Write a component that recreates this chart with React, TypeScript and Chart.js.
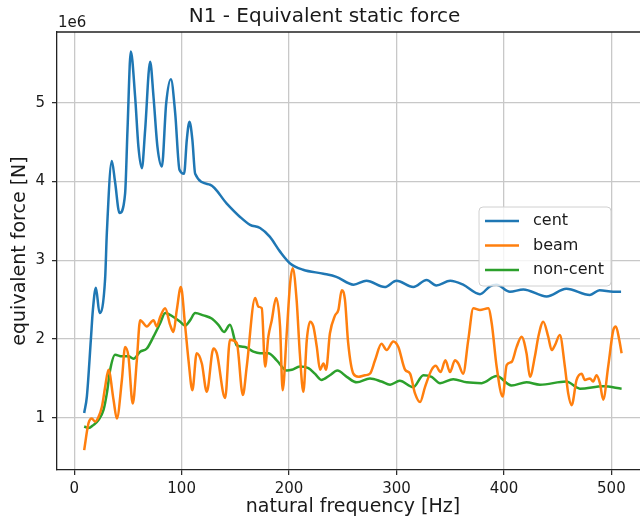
import React, { useEffect, useRef } from "react";
import { Chart, registerables } from "chart.js";

Chart.register(...registerables);

// ---- data (force values in units of 1e6 N) ----
const centFreq = [9.3, 11.8, 15.5, 17.4, 20.2, 23.6, 28.8, 30.4, 35, 38, 42.2, 47.4, 49.6, 52.7, 56.7, 59.8, 63, 66, 70.7, 73.8, 77.5, 81.6, 85.6, 90, 94, 98, 102.3, 104.8, 107.3, 110, 112.6, 126.5, 142, 154.4, 163.7, 173, 182, 191.6, 201, 213, 232, 244, 260, 272, 289, 300, 315.6, 328, 337, 350, 362, 377.7, 387, 393, 405.6, 418, 439.7, 458, 480, 489, 501.7, 509];
const centForce = [1.06, 1.27, 1.99, 2.37, 2.65, 2.33, 2.77, 3.35, 4.26, 4.0, 3.6, 3.85, 4.65, 5.65, 5.08, 4.44, 4.17, 4.65, 5.52, 5.08, 4.44, 4.19, 4.99, 5.3, 4.87, 4.15, 4.1, 4.53, 4.76, 4.53, 4.1, 3.96, 3.72, 3.55, 3.45, 3.41, 3.3, 3.11, 2.96, 2.88, 2.83, 2.79, 2.69, 2.74, 2.66, 2.74, 2.66, 2.75, 2.68, 2.74, 2.69, 2.57, 2.67, 2.69, 2.6, 2.63, 2.54, 2.64, 2.56, 2.62, 2.6, 2.6];

const beamFreq = [9.3, 13.3, 16.4, 19.5, 22.6, 25.8, 28.8, 31.9, 36.6, 39.7, 44.4, 47.4, 50.5, 54.5, 58.3, 61.4, 67.6, 73.8, 76.9, 80, 84.7, 89.3, 92.4, 95.5, 99.3, 103.3, 106.4, 110, 114, 118.8, 123.4, 129.6, 132.7, 140.5, 145, 151.3, 157, 160.6, 168.4, 171.5, 174.6, 177.7, 180.7, 183.9, 187.9, 191.6, 194, 197.8, 201, 203.4, 207, 210, 213.3, 216.5, 219.5, 222.6, 225.8, 228.8, 232, 234.4, 238, 242.8, 245.9, 249, 252, 255, 259.8, 264.4, 270.7, 275.3, 280, 286, 290.8, 297, 301.7, 308, 312.6, 317.2, 321.9, 326.5, 332.7, 336.5, 341, 345.5, 349.8, 354.4, 357.5, 362, 366.8, 371.5, 377.7, 385.4, 388.6, 393.2, 398.8, 402.5, 407.2, 411.8, 416.4, 421, 424.2, 428.8, 432, 436.6, 441.2, 444.4, 447.4, 452, 456.7, 459.8, 463, 467.6, 472.3, 475.3, 480, 483, 486.2, 489.3, 492.4, 497, 501.7, 504.2, 507.3, 509.5];
const beamForce = [0.59, 0.93, 0.99, 0.95, 1.01, 1.14, 1.39, 1.61, 1.23, 0.99, 1.48, 1.9, 1.78, 1.18, 1.73, 2.24, 2.16, 2.24, 2.16, 2.28, 2.39, 2.18, 2.09, 2.37, 2.66, 2.16, 1.73, 1.35, 1.82, 1.69, 1.33, 1.88, 1.82, 1.25, 1.99, 1.95, 1.29, 1.65, 2.52, 2.41, 2.39, 1.65, 2.03, 2.24, 2.52, 2.16, 1.35, 2.07, 2.71, 2.9, 2.5, 1.82, 1.33, 1.99, 2.22, 2.16, 1.9, 1.61, 1.69, 1.61, 2.07, 2.3, 2.37, 2.62, 2.5, 1.95, 1.56, 1.52, 1.54, 1.56, 1.73, 1.94, 1.86, 1.97, 1.9, 1.61, 1.56, 1.31, 1.2, 1.39, 1.61, 1.66, 1.58, 1.73, 1.58, 1.73, 1.69, 1.56, 1.99, 2.39, 2.37, 2.39, 2.2, 1.65, 1.27, 1.67, 1.71, 1.9, 2.03, 1.82, 1.52, 1.78, 2.03, 2.22, 2.03, 1.86, 1.92, 2.05, 1.65, 1.31, 1.16, 1.48, 1.56, 1.48, 1.5, 1.46, 1.54, 1.44, 1.23, 1.65, 2.11, 2.16, 1.99, 1.82];

const nonCentFreq = [9.3, 13.3, 18, 22.6, 27.3, 30.4, 33.5, 38.1, 44.4, 50.5, 55.2, 61.4, 67.6, 73.8, 80, 84.7, 92.4, 98.6, 103.3, 108, 112.6, 120.3, 128, 134.2, 139.5, 145, 151.3, 159, 166.8, 173, 180.7, 188.5, 197.8, 202.5, 210, 218, 224, 230, 238, 245, 253.7, 263, 275.3, 286, 294, 303, 315.6, 325, 332.7, 340.5, 352.8, 365.3, 379.3, 393.2, 407, 421, 433.5, 458, 470.7, 492.4, 509.5];
const nonCentForce = [0.89, 0.87, 0.91, 0.97, 1.1, 1.31, 1.61, 1.8, 1.78, 1.78, 1.75, 1.84, 1.88, 2.03, 2.2, 2.33, 2.28, 2.22, 2.17, 2.24, 2.33, 2.3, 2.26, 2.18, 2.09, 2.18, 1.92, 1.9, 1.84, 1.82, 1.82, 1.73, 1.6, 1.61, 1.65, 1.63, 1.56, 1.48, 1.54, 1.6, 1.52, 1.45, 1.5, 1.46, 1.42, 1.47, 1.39, 1.54, 1.52, 1.44, 1.49, 1.45, 1.44, 1.53, 1.41, 1.45, 1.42, 1.46, 1.37, 1.4, 1.37];

const xTicks = [0, 100, 200, 300, 400, 500];
const yTicks = [1, 2, 3, 4, 5];
const seriesNames = ["cent", "beam", "non-cent"];
const seriesColors = ["#1f77b4", "#ff7f0e", "#2ca02c"];
const titleText = "N1 - Equivalent static force";
const xLabel = "natural frequency [Hz]";
const yLabel = "equivalent force [N]";
const offsetText = "1e6";

const FONT = "'DejaVu Sans', Verdana, sans-serif";
const TEXT = "#1a1a1a";
const LINE_W = 2.5;

const toPoints = (xs: number[], ys: number[]) => xs.map((x, i) => ({ x, y: ys[i] }));

const decorPlugin = {
  id: "decor",
  afterDatasetsDraw(chart: any) {
    const { ctx, chartArea } = chart;
    const { left, top, right, bottom } = chartArea;
    ctx.save();
    // axes frame (top + right spines)
    ctx.strokeStyle = "#222";
    ctx.lineWidth = 1.3;
    ctx.beginPath();
    ctx.moveTo(left, top);
    ctx.lineTo(right, top);
    ctx.lineTo(right, bottom);
    ctx.stroke();
    // offset text
    ctx.fillStyle = TEXT;
    ctx.font = `15px ${FONT}`;
    ctx.textAlign = "left";
    ctx.textBaseline = "alphabetic";
    ctx.fillText(offsetText, left + 1, top - 5);
    // legend
    const bx = 479, by = 207, bw = 132, bh = 79, r = 4;
    ctx.beginPath();
    ctx.moveTo(bx + r, by);
    ctx.lineTo(bx + bw - r, by);
    ctx.quadraticCurveTo(bx + bw, by, bx + bw, by + r);
    ctx.lineTo(bx + bw, by + bh - r);
    ctx.quadraticCurveTo(bx + bw, by + bh, bx + bw - r, by + bh);
    ctx.lineTo(bx + r, by + bh);
    ctx.quadraticCurveTo(bx, by + bh, bx, by + bh - r);
    ctx.lineTo(bx, by + r);
    ctx.quadraticCurveTo(bx, by, bx + r, by);
    ctx.closePath();
    ctx.fillStyle = "rgba(255,255,255,0.8)";
    ctx.fill();
    ctx.strokeStyle = "#d0d0d0";
    ctx.lineWidth = 1;
    ctx.stroke();
    ctx.font = `16px ${FONT}`;
    ctx.textBaseline = "middle";
    seriesNames.forEach((name, i) => {
      const y = 221 + i * 24.5;
      ctx.strokeStyle = seriesColors[i];
      ctx.lineWidth = LINE_W;
      ctx.beginPath();
      ctx.moveTo(485, y);
      ctx.lineTo(519, y);
      ctx.stroke();
      ctx.fillStyle = TEXT;
      ctx.fillText(name, 533, y);
    });
    ctx.restore();
  },
};

export default function App() {
  const ref = useRef<HTMLCanvasElement | null>(null);

  useEffect(() => {
    if (!ref.current) return;
    const series = [
      [centFreq, centForce],
      [beamFreq, beamForce],
      [nonCentFreq, nonCentForce],
    ];
    const chart = new Chart(ref.current, {
      type: "line",
      data: {
        datasets: series.map(([xs, ys], i) => ({
          label: seriesNames[i],
          data: toPoints(xs, ys),
          borderColor: seriesColors[i],
          backgroundColor: seriesColors[i],
          borderWidth: LINE_W,
          pointRadius: 0,
          fill: false,
          cubicInterpolationMode: "monotone" as const,
        })),
      },
      options: {
        animation: false,
        responsive: false,
        devicePixelRatio: 1,
        layout: { padding: { left: 0, right: 11, top: 0, bottom: 0 } },
        plugins: {
          legend: { display: false },
          tooltip: { enabled: false },
          title: {
            display: true,
            text: titleText,
            color: TEXT,
            font: { family: FONT, size: 20, weight: "normal", lineHeight: 1.2 },
            padding: { top: 4.5, bottom: 3.5 },
          },
        },
        scales: {
          x: {
            type: "linear",
            min: -16,
            max: 535,
            afterFit: (s: any) => {
              s.height = 57;
            },
            afterBuildTicks: (s: any) => {
              s.ticks = xTicks.map((v) => ({ value: v }));
            },
            ticks: {
              color: TEXT,
              font: { family: FONT, size: 15 },
              padding: 5,
              maxRotation: 0,
              autoSkip: false,
              callback: (v: any) => String(v),
            },
            grid: {
              color: "#c8c8c8",
              lineWidth: 1.3,
              drawTicks: true,
              tickLength: 5,
              tickColor: "#222",
              tickWidth: 1.2,
            },
            border: { display: true, color: "#222", width: 1.3 },
            title: {
              display: true,
              text: xLabel,
              color: TEXT,
              font: { family: FONT, size: 19, lineHeight: 1.2 },
              padding: { top: 0, bottom: 9 },
            },
          },
          y: {
            type: "linear",
            min: 0.337,
            max: 5.899,
            afterFit: (s: any) => {
              s.width = 57;
            },
            afterBuildTicks: (s: any) => {
              s.ticks = yTicks.map((v) => ({ value: v }));
            },
            ticks: {
              color: TEXT,
              font: { family: FONT, size: 15 },
              padding: 7,
              autoSkip: false,
              callback: (v: any) => String(v),
            },
            grid: {
              color: "#c8c8c8",
              lineWidth: 1.3,
              drawTicks: true,
              tickLength: 5,
              tickColor: "#222",
              tickWidth: 1.2,
            },
            border: { display: true, color: "#222", width: 1.3 },
            title: {
              display: true,
              text: yLabel,
              color: TEXT,
              font: { family: FONT, size: 19, lineHeight: 1.2 },
              padding: { top: 9, bottom: 0 },
            },
          },
        },
      },
      plugins: [decorPlugin],
    } as any);
    return () => chart.destroy();
  }, []);

  return (
    <div
      style={{
        position: "fixed",
        left: 0,
        top: 0,
        width: 640,
        height: 527,
        overflow: "hidden",
        background: "#fff",
      }}
    >
      <canvas ref={ref} width={660} height={527} style={{ display: "block", width: 660, height: 527 }} />
    </div>
  );
}
